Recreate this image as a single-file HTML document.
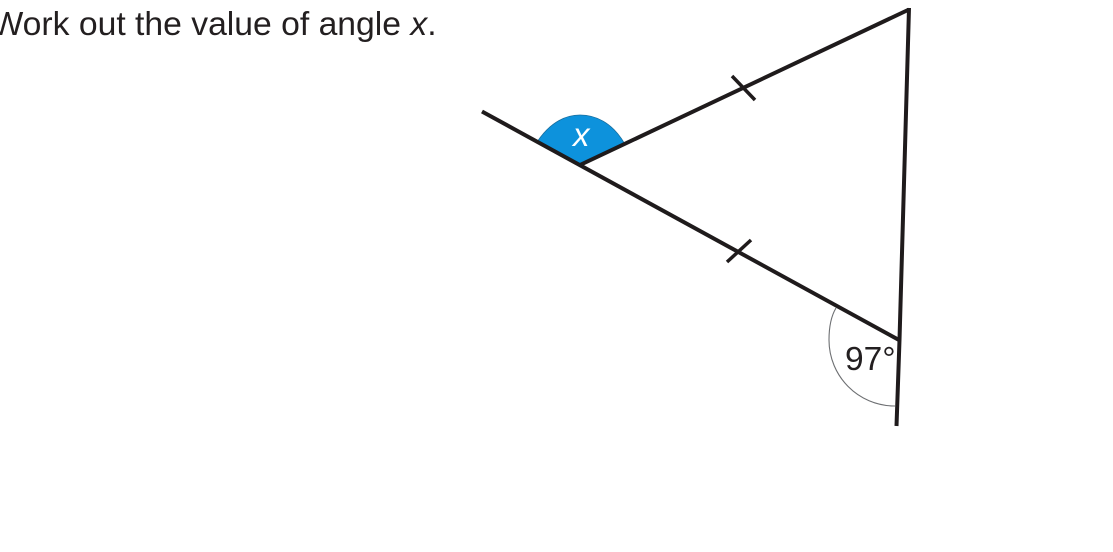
<!DOCTYPE html>
<html>
<head>
<meta charset="utf-8">
<style>
html,body{margin:0;padding:0;width:1113px;height:552px;background:#fff;overflow:hidden}
svg{display:block;position:absolute;left:0;top:0;filter:blur(.3px)}
text{font-family:"Liberation Sans",Arial,sans-serif}
</style>
</head>
<body>
<svg width="1113" height="552" viewBox="0 0 1113 552" xmlns="http://www.w3.org/2000/svg">
<text x="-8.500" y="35" font-size="33.7" fill="#231f20">Work out the value of angle <tspan font-style="italic">x</tspan>.</text>
<path d="M580 165 L537 142 C551 121 567 115 580 115 C595 115 612 122 624.500 143.500 Z" fill="#0d92dc" stroke="#1a6f9f" stroke-width=".8"/>
<path d="M836 308 C830 318 829 330 829 340 C829 376 858 406 895 406" fill="none" stroke="#6d6f72" stroke-width="1.100"/>
<g fill="none" stroke="#1f1b1c" stroke-width="4" stroke-linecap="butt">
<path d="M482 111.500 L899 340"/>
<path d="M580 165 L909 9.500"/>
<path d="M909 8 L899.500 340 L896.500 426"/>
<path d="M732 76 L755 100" stroke-width="3.500"/>
<path d="M727 262 L751 240" stroke-width="3.500"/>
</g>
<text x="573" y="146" font-size="33" font-style="italic" fill="#fff">x</text>
<text x="845" y="370" font-size="33.5" fill="#231f20">97°</text>
</svg>
</body>
</html>
